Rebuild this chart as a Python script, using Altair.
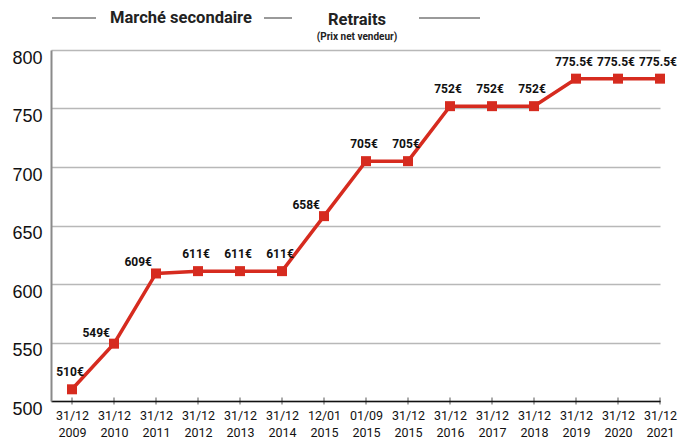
import altair as alt
import pandas as pd

dates = ["31/12", "31/12", "31/12", "31/12", "31/12", "31/12", "12/01", "01/09",
         "31/12", "31/12", "31/12", "31/12", "31/12", "31/12", "31/12"]
years = ["2009", "2010", "2011", "2012", "2013", "2014", "2015", "2015",
         "2015", "2016", "2017", "2018", "2019", "2020", "2021"]
prices = [510, 549, 609, 611, 611, 611, 658, 705, 705, 752, 752, 752, 775.5, 775.5, 775.5]
labels = ["510€", "549€", "609€", "611€", "611€", "611€", "658€", "705€", "705€",
          "752€", "752€", "752€", "775.5€", "775.5€", "775.5€"]
left_labels = [1, 2, 6]  # indices whose label sits to the upper-left of the point

df = pd.DataFrame({
    "i": list(range(len(prices))),
    "price": prices,
    "label": labels,
    "side": ["left" if k in left_labels else "above" for k in range(len(prices))],
})

NARROW = "Roboto, sans-serif"
RED = "#d62b1f"

label_arr = "[" + ",".join("'" + d + "\\n" + y + "'" for d, y in zip(dates, years)) + "]"

x = alt.X("i:Q",
          scale=alt.Scale(domain=[-0.5, 14], nice=False, zero=False),
          axis=alt.Axis(values=list(range(len(prices))),
                        labelExpr="split(" + label_arr + "[datum.value], '\\n')",
                        labelFont=NARROW, labelFontSize=12.5, labelColor="#111",
                        labelPadding=8, labelLineHeight=17, ticks=False,
                        domainColor="#111", domainWidth=1.5, grid=False,
                        title=None, labelOverlap=False, labelFlush=False))
y = alt.Y("price:Q",
          scale=alt.Scale(domain=[500, 800], nice=False, zero=False),
          axis=alt.Axis(values=[500, 550, 600, 650, 700, 750, 800],
                        labelFont="Liberation Sans, Arial, sans-serif", labelFontSize=18,
                        labelColor="#111", labelPadding=9, labelOffset=8,
                        ticks=False, domainColor="#8a8a8a", domainWidth=2,
                        gridColor="#b8b8b8", gridWidth=1.5, title=None))

base = alt.Chart(df)

line = base.mark_line(color=RED, strokeWidth=3.5).encode(x=x, y=y)
pts = base.mark_point(shape="square", filled=True, opacity=1, color=RED, size=100).encode(x=x, y=y)
ticks = base.mark_tick(orient="vertical", color="#111", size=7, thickness=1).encode(
    x=x, y=alt.datum(500))

above = base.transform_filter(alt.datum.side == "above").mark_text(
    font=NARROW, fontSize=12, fontWeight="bold", color="#111", dy=-17, dx=-2
).encode(x=x, y=y, text="label:N")
left = base.transform_filter(alt.datum.side == "left").mark_text(
    font=NARROW, fontSize=12, fontWeight="bold", color="#111", dy=-11, dx=-4, align="right"
).encode(x=x, y=y, text="label:N")

title_df = pd.DataFrame({"t": ["Marché secondaire"]})
t1 = alt.Chart(title_df).mark_text(font=NARROW, fontSize=16.5, fontWeight="bold", color="#222",
                                   align="center").encode(
    x=alt.value(130), y=alt.value(-32), text="t:N")
t2 = alt.Chart(pd.DataFrame({"t": ["Retraits"]})).mark_text(
    font=NARROW, fontSize=16.5, fontWeight="bold", color="#222").encode(
    x=alt.value(306), y=alt.value(-30), text="t:N")
t3 = alt.Chart(pd.DataFrame({"t": ["(Prix net vendeur)"]})).mark_text(
    font=NARROW, fontSize=10, fontWeight="bold", color="#222").encode(
    x=alt.value(306), y=alt.value(-13), text="t:N")

rules = []
for a, b in [(1, 45), (213, 241), (368, 429)]:
    rules.append(alt.Chart(title_df).mark_rule(color="#9a9a9a", strokeWidth=2).encode(
        x=alt.value(a), x2=alt.value(b), y=alt.value(-32)))

chart = alt.layer(line, ticks, pts, above, left, t1, t2, t3, *rules).properties(
    width=609, height=351,
    background="white",
    autosize=alt.AutoSizeParams(type="none"),
    padding={"left": 51, "top": 50, "right": 24, "bottom": 37},
).configure_view(strokeWidth=0, stroke="transparent").configure_axisX(grid=False)

chart.save("out.html", embed_options={"renderer": "svg", "actions": False})
